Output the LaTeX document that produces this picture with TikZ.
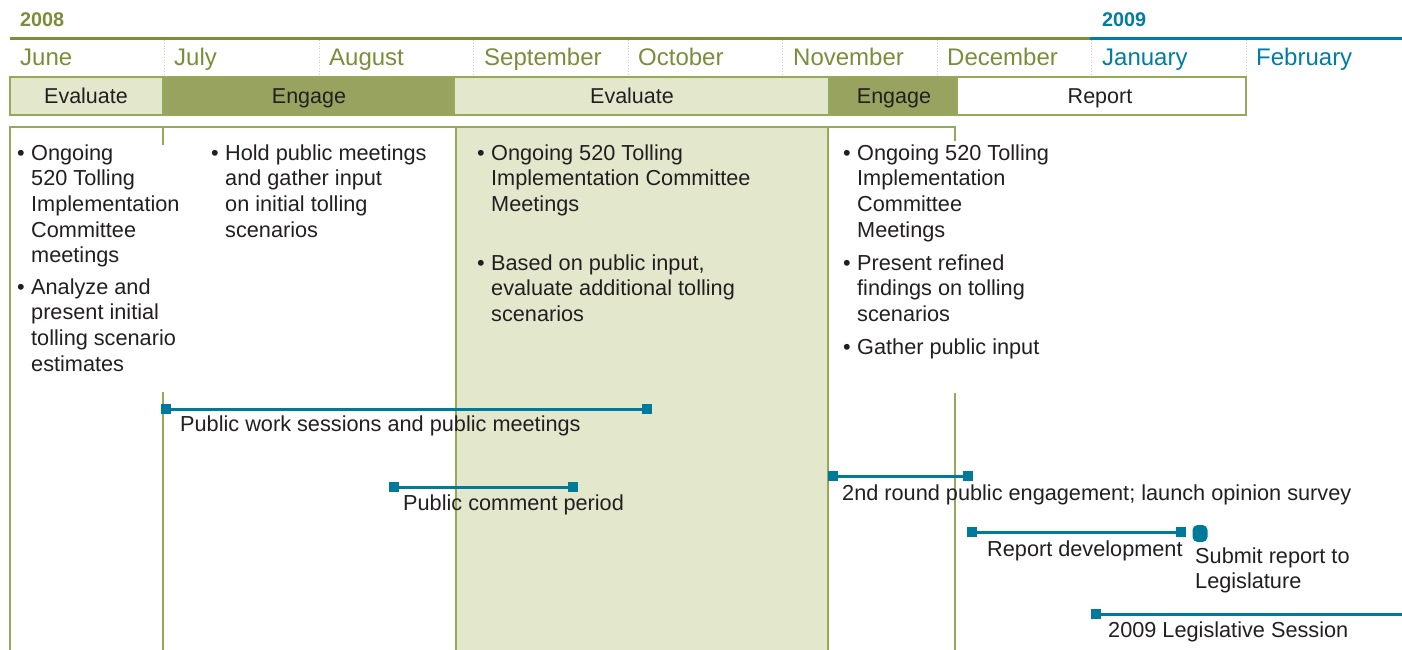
\documentclass[tikz,border=0pt]{standalone}
\usepackage{fontspec}
\setmainfont{Liberation Sans}
\definecolor{oliveC}{RGB}{122,142,58}
\definecolor{tealC}{RGB}{0,125,160}
\definecolor{barC}{RGB}{0,122,155}
\definecolor{darkF}{RGB}{151,163,95}
\definecolor{lightF}{RGB}{227,232,204}
\definecolor{frameC}{RGB}{150,168,90}
\definecolor{txtC}{RGB}{35,31,32}
\definecolor{sepC}{RGB}{205,205,205}
\begin{document}
\begin{tikzpicture}[x=1pt,y=-1pt,
  yeartxt/.style={font=\fontsize{19.8}{22}\selectfont\bfseries, anchor=base west, inner sep=0},
  monthtxt/.style={font=\fontsize{24}{28}\selectfont, anchor=base west, inner sep=0},
  phasebox/.style={draw=frameC, line width=1.5pt, minimum height=38pt, inner sep=0},
  phasetxt/.style={font=\fontsize{21.5}{26}\selectfont, text=txtC, anchor=base, inner sep=0},
  bodytxt/.style={font=\fontsize{21.7}{25.7}\selectfont, text=txtC, anchor=base west, inner sep=0},
  sq/.style={fill=barC, minimum size=10pt, inner sep=0, draw=none},
  bar/.style={draw=barC, line width=3pt},
  frame/.style={draw=frameC, line width=1.5pt},
  sepline/.style={draw=sepC, dotted, line width=0.8pt}]
\newcommand{\bl}{\makebox[14pt][l]{•}}
\useasboundingbox (0,0) rectangle (1402,650);
\fill[white] (0,0) rectangle (1402,650);

% years
\node[yeartxt, text=oliveC] (y2008) at (20,27) {2008};
\node[yeartxt, text=tealC] (y2009) at (1102,27) {2009};
\draw[oliveC, line width=2.5pt] (10,38.5) -- (1090,38.5);
\draw[tealC, line width=2.5pt] (1090,38.5) -- (1402,38.5);

% month separators
\foreach \xx in {164.5,319,473.5,628,782.5,937,1091.5,1246}
  \draw[sepline] (\xx,40) -- (\xx,76);

% months
\node[monthtxt, text=oliveC] (mJun) at (20,66) {June};
\node[monthtxt, text=oliveC] (mJul) at (174,66) {July};
\node[monthtxt, text=oliveC] (mAug) at (329,66) {August};
\node[monthtxt, text=oliveC] (mSep) at (484,66) {September};
\node[monthtxt, text=oliveC] (mOct) at (638,66) {October};
\node[monthtxt, text=oliveC] (mNov) at (793,66) {November};
\node[monthtxt, text=oliveC] (mDec) at (947,66) {December};
\node[monthtxt, text=tealC] (mJan) at (1102,66) {January};
\node[monthtxt, text=tealC] (mFeb) at (1256,66) {February};

% phase bar
\node[phasebox, fill=lightF, minimum width=153pt] (p1) at (86.5,96) {};
\node[phasebox, fill=darkF, minimum width=291pt] (p2) at (308.5,96) {};
\node[phasebox, fill=lightF, minimum width=375pt] (p3) at (641.5,96) {};
\node[phasebox, fill=darkF, minimum width=128pt] (p4) at (893,96) {};
\node[phasebox, fill=white, minimum width=289pt] (p5) at (1101.5,96) {};
\node[phasetxt] (t1) at (86,104) {Evaluate};
\node[phasetxt] (t2) at (309,104) {Engage};
\node[phasetxt] (t3) at (632,104) {Evaluate};
\node[phasetxt] (t4) at (894,104) {Engage};
\node[phasetxt] (t5) at (1100,104) {Report};

% lower frame
\fill[lightF] (456,127) rectangle (828,650);
\draw[frame] (10,650) -- (10,127) -- (955,127) -- (955,141);
\draw[frame] (456,127) -- (456,650);
\draw[frame] (828,127) -- (828,650);
\draw[frame] (163,127) -- (163,145);
\draw[frame] (163,392) -- (163,650);
\draw[frame] (955,393) -- (955,650);

% bullet texts
\node[bodytxt] (c1a) at (17,160) {\begin{tabular}[t]{@{}l@{}l@{}}\bl & Ongoing\\ & 520 Tolling\\ & Implementation\\ & Committee\\ & meetings\end{tabular}};
\node[bodytxt] (c1b) at (17,294) {\begin{tabular}[t]{@{}l@{}l@{}}\bl & Analyze and\\ & present initial\\ & tolling scenario\\ & estimates\end{tabular}};
\node[bodytxt] (c2a) at (211,160) {\begin{tabular}[t]{@{}l@{}l@{}}\bl & Hold public meetings\\ & and gather input\\ & on initial tolling\\ & scenarios\end{tabular}};
\node[bodytxt] (c3a) at (477,160) {\begin{tabular}[t]{@{}l@{}l@{}}\bl & Ongoing 520 Tolling\\ & Implementation Committee\\ & Meetings\end{tabular}};
\node[bodytxt] (c3b) at (477,270) {\begin{tabular}[t]{@{}l@{}l@{}}\bl & Based on public input,\\ & evaluate additional tolling\\ & scenarios\end{tabular}};
\node[bodytxt] (c4a) at (843,160) {\begin{tabular}[t]{@{}l@{}l@{}}\bl & Ongoing 520 Tolling\\ & Implementation\\ & Committee\\ & Meetings\end{tabular}};
\node[bodytxt] (c4b) at (843,270) {\begin{tabular}[t]{@{}l@{}l@{}}\bl & Present refined\\ & findings on tolling\\ & scenarios\end{tabular}};
\node[bodytxt] (c4c) at (843,354) {\begin{tabular}[t]{@{}l@{}l@{}}\bl & Gather public input\end{tabular}};

% bars
\node[sq] (b1a) at (166,409) {};
\node[sq] (b1b) at (647,409) {};
\draw[bar] (b1a) -- (b1b);
\node[bodytxt] (l1) at (180,431) {Public work sessions and public meetings};

\node[sq] (b2a) at (394,487) {};
\node[sq] (b2b) at (573,487) {};
\draw[bar] (b2a) -- (b2b);
\node[bodytxt] (l2) at (403,510) {Public comment period};

\node[sq] (b3a) at (833,476) {};
\node[sq] (b3b) at (968,476) {};
\draw[bar] (b3a) -- (b3b);
\node[bodytxt] (l3) at (842,500) {2nd round public engagement; launch opinion survey};

\node[sq] (b4a) at (972,532) {};
\node[sq] (b4b) at (1181,532) {};
\draw[bar] (b4a) -- (b4b);
\node[bodytxt] (l4) at (987,556) {Report development};

\node[fill=barC, minimum width=15pt, minimum height=17pt, inner sep=0, rounded corners=5pt] (dot) at (1200,533.5) {};
\node[bodytxt] (l5) at (1195,563) {\begin{tabular}[t]{@{}l@{}}Submit report to\\ Legislature\end{tabular}};

\node[sq] (b6a) at (1096,614) {};
\coordinate (b6b) at (1402,614);
\draw[bar] (b6a) -- (b6b);
\node[bodytxt] (l6) at (1108,637) {2009 Legislative Session};
\end{tikzpicture}
\end{document}
